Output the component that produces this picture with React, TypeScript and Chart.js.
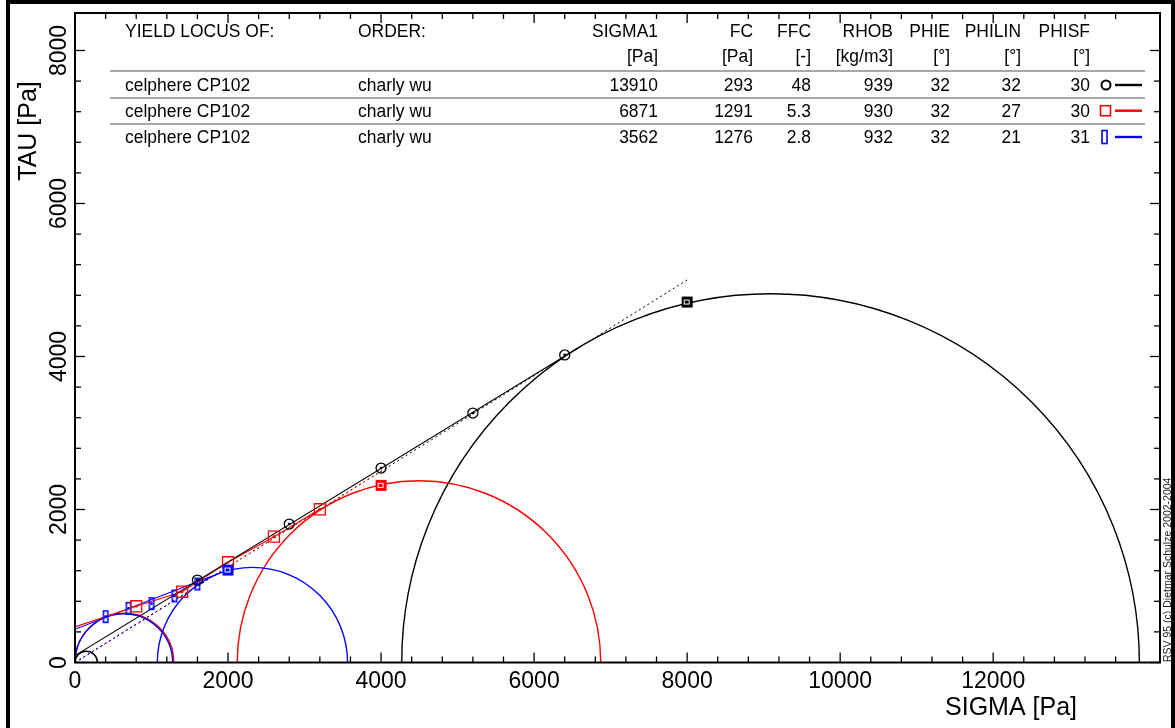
import React, { useEffect, useRef } from 'react';
import { Chart, registerables } from 'chart.js';

Chart.register(...registerables);

const FONT = '"Liberation Sans", Arial, Helvetica, sans-serif';

// ---- axes ----
const X_MAX = 14180;
const Y_MAX = 8490;
const xTickLabels = [0, 2000, 4000, 6000, 8000, 10000, 12000];
const yTickLabels = [0, 2000, 4000, 6000, 8000];
const xMinorLast = 13600;
const yMinorLast = 8000;
const minorStep = 400;
const xTitle = 'SIGMA [Pa]';
const yTitle = 'TAU [Pa]';
const copyright = 'RSV 95 (c) Dietmar Schulze 2002-2004';

// ---- table ----
const tableHeaders = ['YIELD LOCUS OF:', 'ORDER:', 'SIGMA1', 'FC', 'FFC', 'RHOB', 'PHIE', 'PHILIN', 'PHISF'];
const tableUnits = ['', '', '[Pa]', '[Pa]', '[-]', '[kg/m3]', '[°]', '[°]', '[°]'];
const locusNames = ['celphere CP102', 'celphere CP102', 'celphere CP102'];
const orderNames = ['charly wu', 'charly wu', 'charly wu'];
const sigma1 = [13910, 6871, 3562];
const fc = [293, 1291, 1276];
const ffc = ['48', '5.3', '2.8'];
const rhob = [939, 930, 932];
const phie = [32, 32, 32];
const philin = [32, 27, 21];
const phisf = [30, 30, 31];
const seriesColors = ['#000000', '#ff0000', '#0000ff'];

// ---- Mohr circles (minor principal stress of the consolidation circle) ----
const sigma2 = [4270, 2120, 1076];

// ---- shear test points ----
const blackShearSigma = [1600, 2800, 4000, 5200, 6400];
const blackShearTau = [1078, 1810, 2542, 3261, 4020];
const redShearSigma = [800, 1400, 2000, 2600, 3200];
const redShearTau = [735, 925, 1310, 1645, 2003];
const blueShearSigma = [400, 700, 1000, 1300, 1600];
const blueShearTau = [599, 708, 770, 870, 1026];
const preshearSigma = [8000, 4000, 2000];
const preshearTau = [4712, 2316, 1209];

// ---- yield loci (solid) ----
const blackLocusSigma = [0, 6574];
const blackLocusTau = [90, 4111];
const redLocusSigma = [0, 800, 1400, 2000, 2600, 3200];
const redLocusTau = [465, 735, 925, 1310, 1645, 2003];
const blueLocusSigma = [0, 1870];
const blueLocusTau = [435, 1159];

// ---- effective yield loci (dotted, through origin) ----
const effEndSigma = [8000, 4000, 2000];
const effEndTau = [5000, 2500, 1250];

const pts = (xs: number[], ys: number[]) => xs.map((x, i) => ({ x, y: ys[i] }));

function makeRect(w: number, h: number, color: string, filled: boolean) {
  const c = document.createElement('canvas');
  c.width = w + 2;
  c.height = h + 2;
  const g = c.getContext('2d') as CanvasRenderingContext2D;
  if (filled) {
    g.fillStyle = color;
    g.fillRect(1, 1, w, h);
    g.strokeStyle = '#ffffff';
    g.lineWidth = 1;
    g.strokeRect(Math.round(w / 2) - 2.5, Math.round(h / 2) - 1.5, 5, 4);
  } else {
    g.strokeStyle = color;
    g.lineWidth = 1.5;
    g.strokeRect(1.75, 1.75, w - 1.5, h - 1.5);
  }
  return c;
}

const pxRadius = (ctx: any) => {
  const raw = ctx.raw;
  if (!raw || raw.r == null) return 0;
  const xs = ctx.chart.scales.x;
  return Math.abs(xs.getPixelForValue(raw.x + raw.r) - xs.getPixelForValue(raw.x));
};

function txt(ctx: CanvasRenderingContext2D, s: string, x: number, y: number, align: CanvasTextAlign, sx = 0.97) {
  ctx.save();
  ctx.translate(x, y);
  ctx.scale(sx, 1);
  ctx.textAlign = align;
  ctx.textBaseline = 'alphabetic';
  ctx.fillText(s, 0, 0);
  ctx.restore();
}

const decorPlugin = {
  id: 'decor',
  afterDraw(chart: any) {
    const { ctx, chartArea: a, scales } = chart;
    const xs = scales.x;
    const ys = scales.y;
    ctx.save();
    ctx.strokeStyle = '#000';
    ctx.lineWidth = 1.3;
    const seg = (x1: number, y1: number, x2: number, y2: number) => {
      ctx.beginPath();
      ctx.moveTo(x1, y1);
      ctx.lineTo(x2, y2);
      ctx.stroke();
    };
    for (let v = 0; v <= xMinorLast; v += minorStep) {
      const p = xs.getPixelForValue(v);
      const len = xTickLabels.includes(v) ? 10 : 6;
      seg(p, a.bottom, p, a.bottom - len);
      seg(p, a.top, p, a.top + len);
    }
    for (let v = 0; v <= yMinorLast; v += minorStep) {
      const p = ys.getPixelForValue(v);
      const len = yTickLabels.includes(v) ? 10 : 6;
      seg(a.left, p, a.left + len, p);
      seg(a.right, p, a.right - len, p);
    }
    ctx.lineWidth = 2;
    ctx.strokeRect(a.left, a.top, a.right - a.left, a.bottom - a.top);

    // outer frame
    ctx.lineWidth = 4;
    ctx.beginPath();
    ctx.moveTo(8, 760);
    ctx.lineTo(8, 2);
    ctx.lineTo(1173, 2);
    ctx.lineTo(1173, 760);
    ctx.stroke();

    // table
    ctx.fillStyle = '#000';
    ctx.font = `18px ${FONT}`;
    const colX = [125, 358, 658, 753, 811, 893, 950, 1021, 1090];
    const colAlign: CanvasTextAlign[] = ['left', 'left', 'right', 'right', 'right', 'right', 'right', 'right', 'right'];
    tableHeaders.forEach((h, i) => txt(ctx, h, colX[i], 37.3, colAlign[i]));
    tableUnits.forEach((h, i) => { if (h) txt(ctx, h, colX[i], 62.4, colAlign[i]); });
    const rowBase = [90.7, 117, 143.3];
    for (let r = 0; r < 3; r++) {
      const vals = [locusNames[r], orderNames[r], String(sigma1[r]), String(fc[r]), ffc[r], String(rhob[r]), String(phie[r]), String(philin[r]), String(phisf[r])];
      vals.forEach((v, i) => txt(ctx, v, colX[i], rowBase[r], colAlign[i]));
    }
    ctx.strokeStyle = '#a8a8a8';
    ctx.lineWidth = 2;
    [71, 98, 124].forEach((yy) => seg(110, yy, 1145, yy));

    // legend markers
    const rowMid = [85, 110.7, 137];
    seriesColors.forEach((c, r) => {
      ctx.strokeStyle = c;
      ctx.lineWidth = 2.4;
      seg(1115, rowMid[r], 1142, rowMid[r]);
      ctx.lineWidth = r === 0 ? 2 : 1.6;
      if (r === 0) {
        ctx.beginPath();
        ctx.arc(1106, rowMid[r], 4.5, 0, Math.PI * 2);
        ctx.stroke();
      } else if (r === 1) {
        ctx.strokeRect(1100.5, rowMid[r] - 5, 10, 10);
      } else {
        ctx.strokeRect(1102, rowMid[r] - 6.5, 5, 13);
      }
    });

    // axis titles
    ctx.fillStyle = '#000';
    ctx.font = `25px ${FONT}`;
    ctx.textAlign = 'right';
    ctx.textBaseline = 'alphabetic';
    ctx.fillText(xTitle, 1077, 715);
    ctx.save();
    ctx.translate(36, 131);
    ctx.rotate(-Math.PI / 2);
    ctx.textAlign = 'center';
    ctx.fillText(yTitle, 0, 0);
    ctx.restore();

    ctx.save();
    ctx.font = `10.5px ${FONT}`;
    ctx.fillStyle = '#222';
    ctx.translate(1170.5, 662);
    ctx.rotate(-Math.PI / 2);
    ctx.textAlign = 'left';
    ctx.fillText(copyright, 0, 0);
    ctx.restore();

    ctx.restore();
  },
};

export default function App() {
  const ref = useRef<HTMLCanvasElement | null>(null);

  useEffect(() => {
    const canvas = ref.current;
    if (!canvas) return;
    const blueRect = makeRect(6, 13, '#0000ff', false);
    const preMarkers = seriesColors.map((c) => makeRect(11, 11, c, true));

    const shearSigma = [blackShearSigma, redShearSigma, blueShearSigma];
    const shearTau = [blackShearTau, redShearTau, blueShearTau];
    const locusSigma = [blackLocusSigma, redLocusSigma, blueLocusSigma];
    const locusTau = [blackLocusTau, redLocusTau, blueLocusTau];
    // drawing order: first dataset is drawn on top
    const topFirst = [2, 1, 0];

    const datasets: any[] = [];
    seriesColors.forEach((c, i) => {
      datasets.push({
        data: pts(shearSigma[i], shearTau[i]),
        pointStyle: 'circle',
        pointRadius: 1.4,
        pointBackgroundColor: c,
        pointBorderWidth: 0,
      });
    });
    datasets.push({
      data: pts(preshearSigma, preshearTau),
      pointStyle: (ctx: any) => preMarkers[ctx.dataIndex] || preMarkers[0],
      pointRadius: 6,
    });
    datasets.push({
      data: pts(blackShearSigma, blackShearTau),
      pointStyle: 'circle',
      pointRadius: 5,
      pointBackgroundColor: 'rgba(0,0,0,0)',
      pointBorderColor: seriesColors[0],
      pointBorderWidth: 1.3,
    });
    datasets.push({
      data: pts(redShearSigma, redShearTau),
      pointStyle: 'rect',
      pointRadius: 7.8,
      pointBackgroundColor: 'rgba(0,0,0,0)',
      pointBorderColor: seriesColors[1],
      pointBorderWidth: 1.3,
    });
    datasets.push({
      data: pts(blueShearSigma, blueShearTau),
      pointStyle: blueRect,
      pointRadius: 6,
    });
    seriesColors.forEach((c, i) => {
      datasets.push({
        data: pts(locusSigma[i], locusTau[i]),
        showLine: true,
        borderColor: c,
        borderWidth: 1.1,
        pointRadius: 0,
        tension: 0,
      });
    });
    topFirst.forEach((i) => {
      datasets.push({
        data: [{ x: 0, y: 0 }, { x: effEndSigma[i], y: effEndTau[i] }],
        showLine: true,
        borderColor: seriesColors[i],
        borderWidth: 1,
        borderDash: [2, 3],
        pointRadius: 0,
      });
    });
    topFirst.forEach((i) => {
      datasets.push({
        data: [
          { x: (sigma1[i] + sigma2[i]) / 2, y: 0, r: (sigma1[i] - sigma2[i]) / 2 },
          { x: fc[i] / 2, y: 0, r: fc[i] / 2 },
        ],
        pointStyle: 'circle',
        pointRadius: pxRadius,
        pointBackgroundColor: 'rgba(0,0,0,0)',
        pointBorderColor: seriesColors[i],
        pointBorderWidth: 1.4,
        clip: 0,
      });
    });

    const chart = new Chart(canvas, {
      type: 'scatter',
      data: { datasets },
      options: {
        animation: false,
        responsive: false,
        devicePixelRatio: 1,
        events: [],
        layout: { padding: { left: 0, right: 15, top: 13, bottom: 0 } },
        plugins: { legend: { display: false }, tooltip: { enabled: false }, title: { display: false } },
        scales: {
          x: {
            type: 'linear',
            position: 'bottom',
            min: 0,
            max: X_MAX,
            grid: { display: false, drawTicks: false },
            border: { display: false },
            ticks: {
              color: '#000',
              font: { family: FONT, size: 23 },
              padding: 5,
              maxRotation: 0,
              autoSkip: false,
              callback: (v: any) => String(v),
            },
            afterBuildTicks: (s: any) => { s.ticks = xTickLabels.map((v) => ({ value: v })); },
            afterFit: (s: any) => { s.height = 65.5; },
          },
          y: {
            type: 'linear',
            position: 'left',
            min: 0,
            max: Y_MAX,
            grid: { display: false, drawTicks: false },
            border: { display: false },
            ticks: {
              color: '#000',
              font: { family: FONT, size: 23 },
              padding: -10,
              minRotation: 90,
              maxRotation: 90,
              crossAlign: 'center',
              autoSkip: false,
              callback: (v: any) => String(v),
            },
            afterBuildTicks: (s: any) => { s.ticks = yTickLabels.map((v) => ({ value: v })); },
            afterFit: (s: any) => { s.width = 75; },
          },
        },
      } as any,
      plugins: [decorPlugin],
    });
    return () => chart.destroy();
  }, []);

  return (
    <div style={{ position: 'absolute', left: 0, top: 0, width: 1175, height: 728, background: '#fff' }}>
      <canvas ref={ref} width={1175} height={728} style={{ display: 'block' }} />
    </div>
  );
}
